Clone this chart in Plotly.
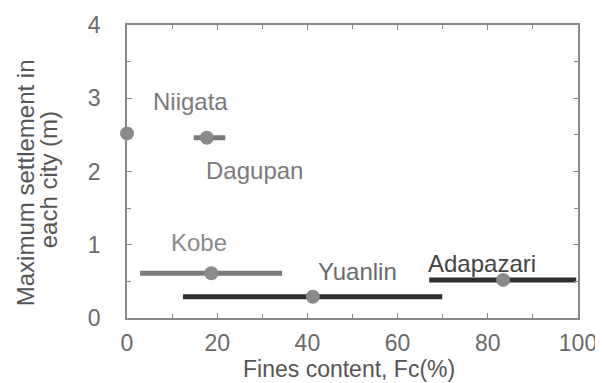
import plotly.graph_objects as go

cities = ["Niigata", "Dagupan", "Kobe", "Yuanlin", "Adapazari"]
fc_mean = [0, 17.7, 18.7, 41.2, 83.4]
fc_min = [0, 14.8, 2.9, 12.4, 67.0]
fc_max = [0, 21.8, 34.4, 69.9, 99.6]
settlement = [2.52, 2.46, 0.61, 0.29, 0.52]

x_ticks = [0, 20, 40, 60, 80, 100]
y_ticks = [0, 1, 2, 3, 4]
x_title = "Fines content, Fc(%)"
y_title_lines = ["Maximum settlement in", "each city (m)"]

FONT = "Liberation Sans, Arial, sans-serif"
line_colors = {"Niigata": "#7a7a7a", "Dagupan": "#7a7a7a", "Kobe": "#7a7a7a",
               "Yuanlin": "#2e2e2e", "Adapazari": "#2e2e2e"}
label_pos = {"Niigata": (14.0, 2.95), "Dagupan": (28.2, 2.01), "Kobe": (16.0, 1.03),
             "Yuanlin": (51.2, 0.64), "Adapazari": (78.8, 0.75)}
label_colors = {"Niigata": "#7a7a7a", "Dagupan": "#7a7a7a", "Kobe": "#8a8a8a",
                "Yuanlin": "#6a6a6a", "Adapazari": "#444444"}

fig = go.Figure()
for c, m, lo, hi, s in zip(cities, fc_mean, fc_min, fc_max, settlement):
    if hi > lo:
        fig.add_trace(go.Scatter(x=[lo, hi], y=[s, s], mode="lines",
                                 line=dict(color=line_colors[c], width=5),
                                 showlegend=False, hoverinfo="skip", cliponaxis=False))
    fig.add_trace(go.Scatter(x=[m], y=[s], mode="markers",
                             marker=dict(color="#8a8a8a", size=14),
                             showlegend=False, name=c, cliponaxis=False))
    lx, ly = label_pos[c]
    fig.add_annotation(x=lx, y=ly, text=c, showarrow=False,
                       font=dict(size=24, color=label_colors[c], family=FONT))

axis_common = dict(showline=True, linecolor="#888888", linewidth=1.5, mirror="allticks",
                   ticks="inside", ticklen=5, tickcolor="#888888", showgrid=False,
                   zeroline=False, automargin=False,
                   tickfont=dict(size=23, color="#6a6a6a", family=FONT))

fig.update_xaxes(range=[0, 100], tickvals=x_ticks, ticklabelstandoff=4,
                 minor=dict(ticks="inside", dtick=10, ticklen=4, tickcolor="#888888"),
                 **axis_common)
fig.update_yaxes(range=[0, 4], tickvals=y_ticks, ticklabelstandoff=20,
                 minor=dict(ticks="inside", dtick=0.5, ticklen=4, tickcolor="#888888"),
                 **axis_common)

# axis titles as paper-anchored annotations
fig.add_annotation(xref="paper", yref="paper", x=0.492, y=0, yshift=-51,
                   text=x_title, showarrow=False, yanchor="middle",
                   font=dict(size=23, color="#555555", family=FONT))
fig.add_annotation(xref="paper", yref="paper", x=0, xshift=-102, y=0.46,
                   text=y_title_lines[0], showarrow=False, textangle=-90,
                   xanchor="center", yanchor="middle",
                   font=dict(size=24, color="#555555", family=FONT))
fig.add_annotation(xref="paper", yref="paper", x=0, xshift=-79, y=0.47,
                   text=y_title_lines[1], showarrow=False, textangle=-90,
                   xanchor="center", yanchor="middle",
                   font=dict(size=24, color="#555555", family=FONT))

# page body has an 8px default margin, so the figure is shrunk by it
fig.update_layout(width=595, height=375, margin=dict(l=119, r=25, t=17, b=65),
                  plot_bgcolor="white", paper_bgcolor="white")

fig.write_html("out.html")
